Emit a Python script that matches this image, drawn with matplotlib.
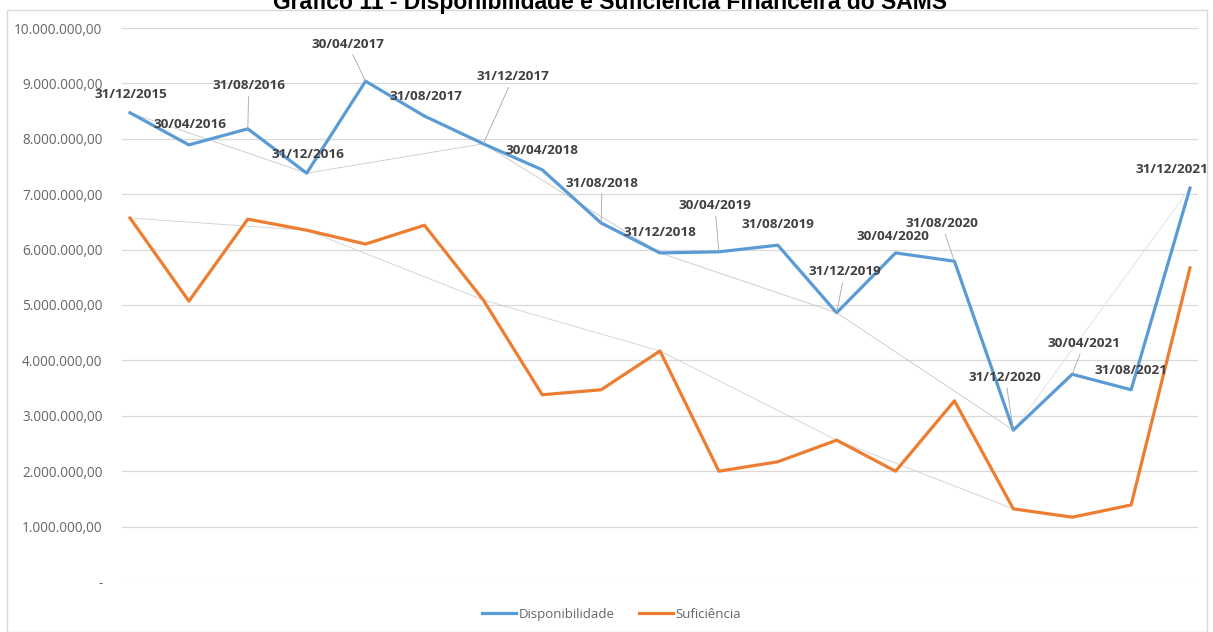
#!/usr/bin/env python3
"""Gráfico 11 - Disponibilidade e Suficiência Financeira do SAMS."""

import matplotlib
matplotlib.use("Agg")
import matplotlib.pyplot as plt
from matplotlib.patches import Rectangle
from matplotlib.ticker import FuncFormatter

datas = [
    "31/12/2015", "30/04/2016", "31/08/2016", "31/12/2016", "30/04/2017",
    "31/08/2017", "31/12/2017", "30/04/2018", "31/08/2018", "31/12/2018",
    "30/04/2019", "31/08/2019", "31/12/2019", "30/04/2020", "31/08/2020",
    "31/12/2020", "30/04/2021", "31/08/2021", "31/12/2021",
]
disponibilidade = [
    8470000, 7890000, 8180000, 7380000, 9040000, 8410000, 7910000, 7440000,
    6480000, 5940000, 5960000, 6080000, 4860000, 5940000, 5790000, 2740000,
    3750000, 3470000, 7110000,
]
suficiencia = [
    6570000, 5070000, 6550000, 6350000, 6100000, 6440000, 5090000, 3380000,
    3470000, 4170000, 2000000, 2170000, 2560000, 2000000, 3270000, 1320000,
    1170000, 1390000, 5670000,
]
y_ticks = list(range(0, 10000001, 1000000))

# label offsets in pixels (dx, dy) and whether Excel drew a leader line
label_offsets = [
    (1, 18, False), (1, 20, False), (1, 43, True), (1, 19, False),
    (-18, 37, True), (1, 20, False), (30, 67, True), (0, 19, False),
    (1, 40, True), (0, 20, False), (-4, 46, True), (0, 21, False),
    (8, 41, True), (-3, 16, False), (-13, 38, True), (-8, 53, True),
    (12, 31, True), (0, 19, False), (-18, 19, False),
]

BLUE = "#5B9BD5"
ORANGE = "#ED7D31"
GRID = "#d9d9d9"
TEXT = "#666666"


def fmt_br(v, _pos=None):
    if v == 0:
        return "-"
    s = f"{v:,.2f}"
    return s.replace(",", "X").replace(".", ",").replace("X", ".")


def main() -> None:
    fig = plt.figure(figsize=(12.13, 6.32), dpi=100)
    fig.patches.append(Rectangle((7 / 1213, 0), 1200 / 1213, 622 / 632,
                                 transform=fig.transFigure, fill=False,
                                 edgecolor="#d9d9d9", lw=1.0))
    fig.text(0.503, 1 - 9 / 632,
             "Gráfico 11 - Disponibilidade e Suficiência Financeira do SAMS",
             ha="center", va="baseline", fontsize=16.5, fontweight="bold",
             family="Liberation Sans", color="black")

    ax = fig.add_axes([122 / 1213, 50 / 632, 1076 / 1213, 554 / 632])
    x = list(range(len(datas)))

    # stray leader lines left behind in the original chart
    ax.plot(x[:16:3], disponibilidade[:16:3], color="#c8c8c8", lw=0.6, zorder=1)
    ax.plot(x[15::3], disponibilidade[15::3], color="#e6e6e6", lw=0.8, zorder=1)
    ax.plot(x[:16:3], suficiencia[:16:3], color="#d0d0d0", lw=0.6, zorder=1)

    ax.plot(x, disponibilidade, color=BLUE, lw=2.3, label="Disponibilidade",
            zorder=3, solid_joinstyle="round")
    ax.plot(x, suficiencia, color=ORANGE, lw=2.3, label="Suficiência",
            zorder=3, solid_joinstyle="round")

    for i, (lab, (dx, dy, leader)) in enumerate(zip(datas, label_offsets)):
        props = None
        if leader:
            props = dict(arrowstyle="-", color="#a6a6a6", lw=0.6,
                         shrinkA=1, shrinkB=0)
        ax.annotate(lab, (x[i], disponibilidade[i]), xytext=(dx, dy),
                    textcoords="offset pixels", ha="center", va="center",
                    fontsize=9.7, fontweight="bold", color="#404040",
                    family="Open Sans", arrowprops=props, zorder=4)

    ax.set_xlim(-0.136, 18.136)
    ax.set_ylim(0, 10000000)
    ax.set_yticks(y_ticks)
    ax.yaxis.set_major_formatter(FuncFormatter(fmt_br))
    ax.set_xticks([])
    ax.grid(axis="y", color=GRID, lw=0.9)
    ax.set_axisbelow(True)
    for sp in ax.spines.values():
        sp.set_visible(False)
    ax.tick_params(axis="y", length=0, pad=14, labelsize=9.8, labelcolor=TEXT)
    for t in ax.get_yticklabels():
        t.set_family("Open Sans")

    leg = ax.legend(loc="center", bbox_to_anchor=(0.455, -0.058), ncol=2,
                    frameon=False, handlelength=2.6, columnspacing=1.8,
                    handletextpad=0.2, prop={"family": "Open Sans", "size": 9.5})
    for t in leg.get_texts():
        t.set_color(TEXT)

    fig.savefig("out.png", dpi=100, facecolor="white")


if __name__ == "__main__":
    main()
